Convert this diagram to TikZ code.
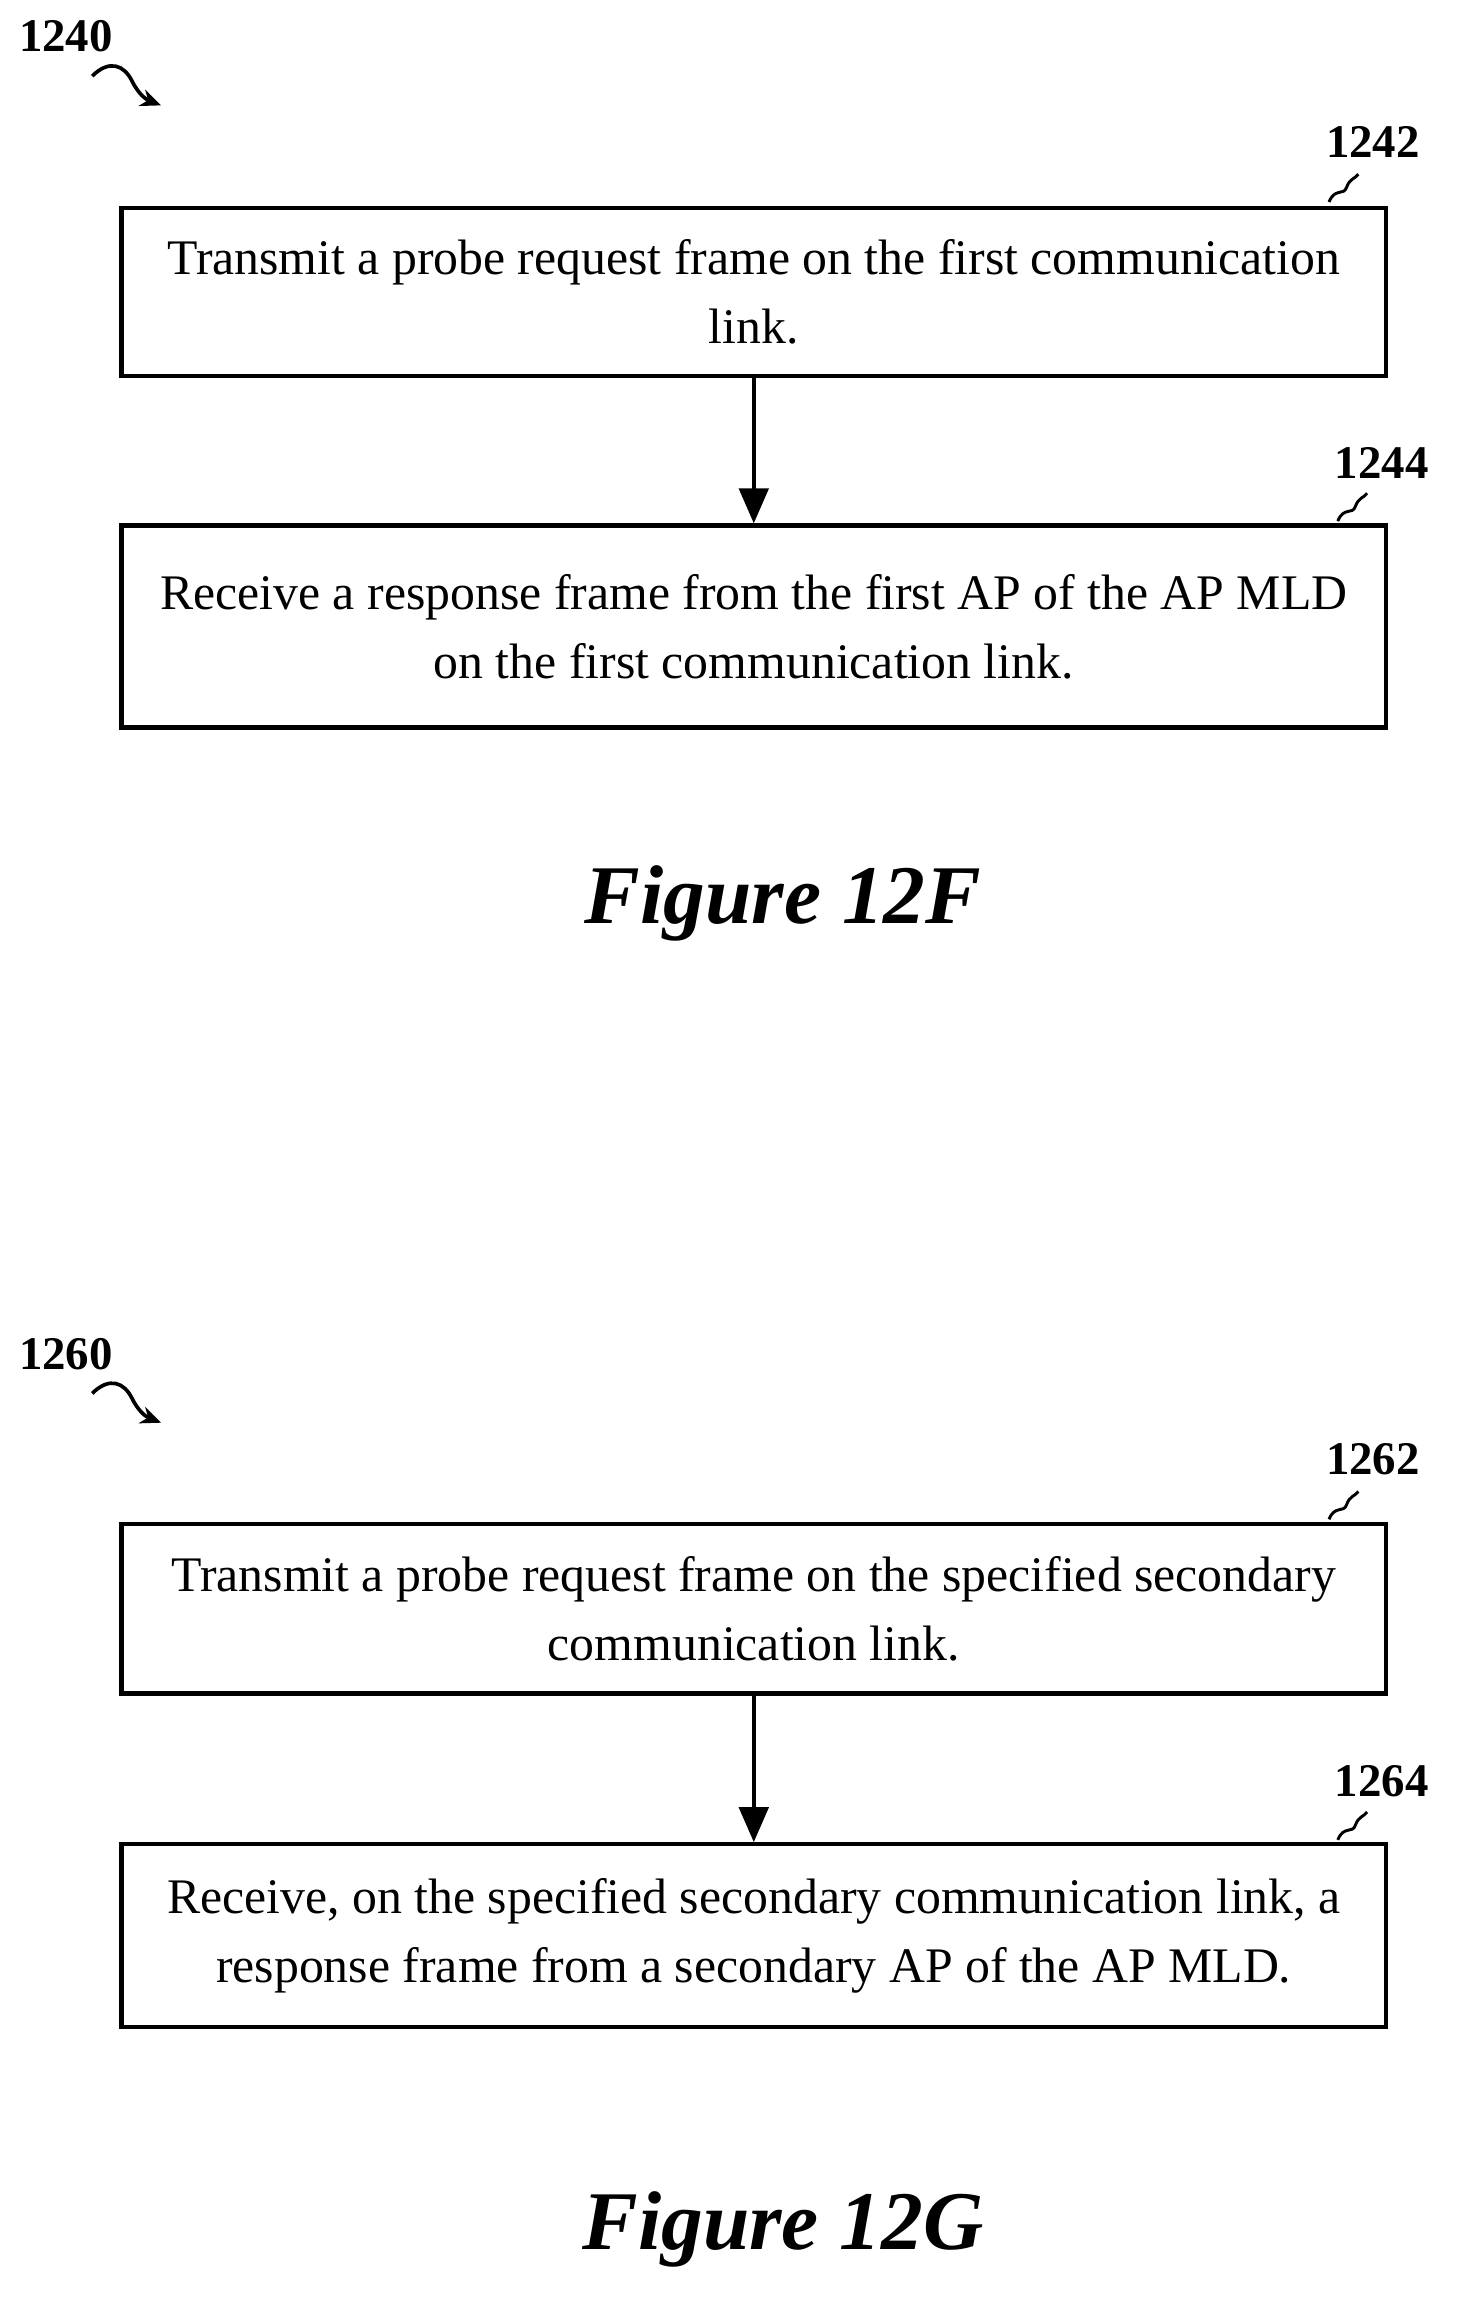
\documentclass[tikz,border=0pt]{standalone}
\usepackage{fontspec}
\setmainfont{Liberation Serif}
\usetikzlibrary{arrows.meta}
\begin{document}
\begin{tikzpicture}[x=1pt,y=-1pt,
 box/.style={draw,line width=2.8pt,minimum width=864pt,align=center,font=\fontsize{34}{47}\selectfont,inner sep=0pt},
 lab/.style={font=\fontsize{32}{36}\selectfont\bfseries},
 figcap/.style={font=\fontsize{57}{62}\selectfont\bfseries\itshape},
 arr/.style={-{Triangle[length=24pt,width=20pt]},line width=3pt},
 sq/.style={line width=2pt},
 sqa/.style={line width=2.5pt,-{Stealth[length=14pt,width=12pt]}}]
\useasboundingbox (0,0) rectangle (1000,1583);
% Figure 12F
\node[lab] (l1240) at (45,25) {1240};
\draw[sqa] (63,52) .. controls (75,40) and (85,45) .. (90,55) .. controls (95,65) and (100,68) .. (110,72);
\node[box,minimum height=115pt] (b1) at (515,199.5) {Transmit a probe request frame on the first communication\\link.};
\node[box,minimum height=138pt] (b2) at (515,428) {Receive a response frame from the first AP of the AP MLD\\on the first communication link.};
\draw[arr] (b1) -- (b2);
\node[lab] (l1242) at (938,97) {1242};
\draw[sq] (908,138) .. controls (912,128) and (918,134) .. (920,128) .. controls (922,122) and (926,122) .. (928,119);
\node[lab] (l1244) at (944,316) {1244};
\draw[sq] (914,356) .. controls (918,346) and (924,352) .. (926,346) .. controls (928,340) and (932,340) .. (934,337);
\node[figcap] (c1) at (535,617) {Figure 12F};
% Figure 12G
\node[lab] (l1260) at (45,925) {1260};
\draw[sqa] (63,952) .. controls (75,940) and (85,945) .. (90,955) .. controls (95,965) and (100,968) .. (110,972);
\node[box,minimum height=116pt] (b3) at (515,1099) {Transmit a probe request frame on the specified secondary\\communication link.};
\node[box,minimum height=125pt] (b4) at (515,1322.5) {Receive, on the specified secondary communication link, a\\response frame from a secondary AP of the AP MLD.};
\draw[arr] (b3) -- (b4);
\node[lab] (l1262) at (938,997) {1262};
\draw[sq] (908,1038) .. controls (912,1028) and (918,1034) .. (920,1028) .. controls (922,1022) and (926,1022) .. (928,1019);
\node[lab] (l1264) at (944,1217) {1264};
\draw[sq] (914,1257) .. controls (918,1247) and (924,1253) .. (926,1247) .. controls (928,1241) and (932,1241) .. (934,1238);
\node[figcap] (c2) at (535,1523) {Figure 12G};
\end{tikzpicture}
\end{document}
